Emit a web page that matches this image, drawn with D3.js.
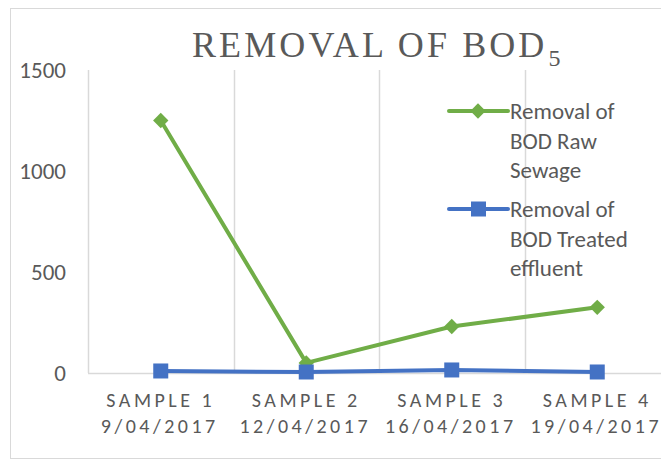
<!DOCTYPE html>
<html>
<head>
<meta charset="utf-8">
<script src="https://cdn.jsdelivr.net/npm/d3@7"></script>
<style>
  body { margin: 0; background: #fff; }
  svg { display: block; }
</style>
</head>
<body>
<div id="chart"></div>
<script>
var samples = ['SAMPLE 1', 'SAMPLE 2', 'SAMPLE 3', 'SAMPLE 4'];
var dates = ['9/04/2017', '12/04/2017', '16/04/2017', '19/04/2017'];
var rawSewage = [1250, 50, 230, 325];
var treated = [10, 5, 15, 5];
var yTicks = [0, 500, 1000, 1500];
var seriesNames = [['Removal of', 'BOD Raw', 'Sewage'], ['Removal of', 'BOD Treated', 'effluent']];

var W = 661, H = 461;
var green = '#70ad47', blue = '#4472c4', grey = '#595959', grid = '#d9d9d9';
var font = "Carlito, 'Liberation Sans', sans-serif";

var svg = d3.select('#chart').append('svg')
    .attr('width', W).attr('height', H);

// outer chart border
svg.append('rect')
    .attr('x', 10.5).attr('y', 8.5)
    .attr('width', 700).attr('height', 450)
    .attr('fill', 'none').attr('stroke', grid);

var x = d3.scaleBand().domain(samples).range([88, 670]);
var y = d3.scaleLinear().domain([0, 1500]).range([373, 70]);

// vertical grid lines between categories
svg.selectAll('.vgrid')
    .data(samples)
    .enter().append('line')
    .attr('x1', function(d){ return Math.round(x(d)) + 0.5; })
    .attr('x2', function(d){ return Math.round(x(d)) + 0.5; })
    .attr('y1', y(1500)).attr('y2', y(0))
    .attr('stroke', grid).attr('stroke-width', 1.5);

// x axis line
svg.append('line')
    .attr('x1', 88).attr('x2', 670)
    .attr('y1', y(0) + 0.5).attr('y2', y(0) + 0.5)
    .attr('stroke', grid).attr('stroke-width', 1.5);

// y tick labels
var yAxis = svg.append('g')
    .attr('transform', 'translate(66,0)')
    .call(d3.axisLeft(y).tickValues(yTicks).tickFormat(d3.format('d')).tickSize(0).tickPadding(0));
yAxis.select('.domain').remove();
yAxis.selectAll('text')
    .attr('font-family', font).attr('font-size', 23)
    .attr('fill', grey);

// x labels, two lines each
var xl = svg.selectAll('.xlab')
    .data(samples)
    .enter().append('text')
    .attr('text-anchor', 'middle')
    .attr('font-family', font).attr('font-size', 20)
    .attr('letter-spacing', '3.5px')
    .attr('fill', grey);
xl.append('tspan')
    .attr('x', function(d){ return x(d) + x.bandwidth()/2; })
    .attr('y', 407)
    .text(function(d){ return d; });
xl.append('tspan')
    .attr('x', function(d){ return x(d) + x.bandwidth()/2 - 1; })
    .attr('y', 433)
    .text(function(d, i){ return dates[i]; });

// title
var title = svg.append('text')
    .attr('x', 192).attr('y', 57)
    .attr('font-family', "'Liberation Serif', 'DejaVu Serif', serif")
    .attr('font-size', 36).attr('letter-spacing', '3.1px')
    .attr('fill', grey);
title.append('tspan').text('REMOVAL OF BOD');
title.append('tspan').attr('font-size', 24).attr('dy', 9).attr('dx', 1).text('5');

var line = d3.line()
    .x(function(d, i){ return x(samples[i]) + x.bandwidth()/2; })
    .y(function(d){ return y(d); });

svg.append('path').datum(rawSewage)
    .attr('d', line).attr('fill', 'none')
    .attr('stroke', green).attr('stroke-width', 4).attr('stroke-linejoin', 'round');
svg.append('path').datum(treated)
    .attr('d', line).attr('fill', 'none')
    .attr('stroke', blue).attr('stroke-width', 4).attr('stroke-linejoin', 'round');

var diamond = d3.symbol().type(d3.symbolDiamond2).size(150);
svg.selectAll('.gpt')
    .data(rawSewage)
    .enter().append('path')
    .attr('d', diamond)
    .attr('transform', function(d, i){ return 'translate(' + (x(samples[i]) + x.bandwidth()/2) + ',' + y(d) + ')'; })
    .attr('fill', green);

svg.selectAll('.bpt')
    .data(treated)
    .enter().append('rect')
    .attr('x', function(d, i){ return x(samples[i]) + x.bandwidth()/2 - 7.5; })
    .attr('y', function(d){ return y(d) - 7.5; })
    .attr('width', 15).attr('height', 15)
    .attr('fill', blue);

// legend
var legY = [111, 209];
var legColors = [green, blue];
seriesNames.forEach(function(lines, k){
    var g = svg.append('g');
    g.append('line')
        .attr('x1', 449).attr('x2', 508)
        .attr('y1', legY[k]).attr('y2', legY[k])
        .attr('stroke', legColors[k]).attr('stroke-width', 4)
        .attr('stroke-linecap', 'round');
    if(k == 0){
        g.append('path').attr('d', diamond)
            .attr('transform', 'translate(478,' + legY[k] + ')')
            .attr('fill', green);
    } else {
        g.append('rect')
            .attr('x', 471).attr('y', legY[k] - 7.5)
            .attr('width', 15).attr('height', 15)
            .attr('fill', blue);
    }
    g.selectAll('text')
        .data(lines)
        .enter().append('text')
        .attr('x', 510)
        .attr('y', function(d, i){ return legY[k] + 8 + i*29.5; })
        .attr('font-family', font).attr('font-size', 23)
        .attr('fill', grey)
        .text(function(d){ return d; });
});
</script>
</body>
</html>
